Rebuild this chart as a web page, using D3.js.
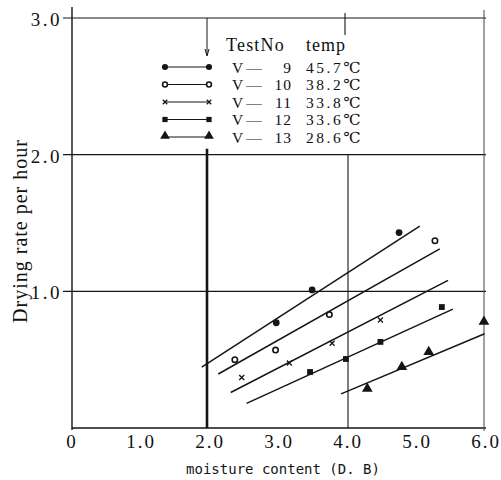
<!DOCTYPE html>
<html>
<head>
<meta charset="utf-8">
<script src="https://cdn.jsdelivr.net/npm/d3@7"></script>
<style>
  html, body { margin: 0; padding: 0; background: #fff; }
  svg { display: block; }
  .serif { font-family: "Liberation Serif", "DejaVu Serif", serif; fill: #111; }
</style>
</head>
<body>
<svg id="chart" width="501" height="480"></svg>
<script>
// Drying rate against moisture content, five test runs
const testNums = ["9", "10", "11", "12", "13"];
const temps = ["45.7℃", "38.2℃", "33.8℃", "33.6℃", "28.6℃"];
const markerTypes = ["dot", "ring", "cross", "square", "triangle"];

// measured points (moisture content, drying rate)
const v9X = [2.96, 3.48, 4.74];
const v9Y = [0.77, 1.01, 1.43];
const v10X = [2.36, 2.95, 3.73, 5.26];
const v10Y = [0.50, 0.57, 0.83, 1.37];
const v11X = [2.46, 3.15, 3.77, 4.47];
const v11Y = [0.37, 0.475, 0.62, 0.79];
const v12X = [3.45, 3.97, 4.47, 5.36];
const v12Y = [0.41, 0.505, 0.63, 0.885];
const v13X = [4.28, 4.78, 5.17, 5.97];
const v13Y = [0.28, 0.44, 0.55, 0.77];

// fitted straight lines: [x start, x end], [y start, y end]
const fitX = [[1.88, 5.04], [2.12, 5.33], [2.30, 5.45], [2.53, 5.52], [3.90, 5.98]];
const fitY = [[0.446, 1.478], [0.395, 1.31], [0.26, 1.08], [0.18, 0.87], [0.25, 0.69]];

const xTicks = [0, 1, 2, 3, 4, 5, 6];
const xTickLabels = ["0", "1.0", "2.0", "3.0", "4.0", "5.0", "6.0"];
const yTicks = [1, 2, 3];
const yTickLabels = ["1.0", "2.0", "3.0"];

const seriesX = [v9X, v10X, v11X, v12X, v13X];
const seriesY = [v9Y, v10Y, v11Y, v12Y, v13Y];

const svg = d3.select("#chart");
const x = d3.scaleLinear().domain([0, 6]).range([72, 486]);
const y = d3.scaleLinear().domain([0, 3]).range([428, 18]);
const ink = "#151515";

const frame = svg.append("g").attr("fill", "none").attr("stroke", ink);

// left axis and bottom axis
frame.append("line").attr("x1", x(0)).attr("x2", x(0)).attr("y1", y(3) - 11).attr("y2", y(0) + 2).attr("stroke-width", 1.4);
frame.append("line").attr("x1", x(0)).attr("x2", x(6)).attr("y1", y(0)).attr("y2", y(0)).attr("stroke-width", 1.3);

// horizontal rules (top one is the frame top)
yTicks.forEach(v => {
  frame.append("line").attr("x1", x(0) - 9).attr("x2", x(6)).attr("y1", y(v)).attr("y2", y(v))
    .attr("stroke-width", 1.2);
});

// vertical rules, broken around the legend
frame.append("line").attr("x1", x(2) - 3).attr("x2", x(2) - 3).attr("y1", y(3)).attr("y2", 55).attr("stroke-width", 1);
frame.append("path").attr("d", d3.line()([[x(2) - 5, 49], [x(2) - 3, 56], [x(2) - 1, 49]])).attr("stroke-width", 1);
frame.append("line").attr("x1", x(2) - 3).attr("x2", x(2) - 3).attr("y1", y(2) - 6).attr("y2", y(0)).attr("stroke-width", 2.6);
frame.append("line").attr("x1", x(4) - 3).attr("x2", x(4) - 3).attr("y1", y(3) - 5).attr("y2", 35).attr("stroke-width", 1.1);
frame.append("line").attr("x1", x(4)).attr("x2", x(4)).attr("y1", y(2)).attr("y2", y(0)).attr("stroke-width", 1.1);
frame.append("line").attr("x1", x(6) - 2).attr("x2", x(6) - 2).attr("y1", y(3) - 8).attr("y2", y(0) + 3)
  .attr("stroke-width", 1).attr("stroke", "#444");

// tick labels
svg.append("g").selectAll("text").data(xTicks).join("text")
  .attr("class", "serif")
  .attr("x", d => x(d)).attr("y", 448)
  .attr("text-anchor", "middle").attr("font-size", 19).attr("letter-spacing", 2)
  .text((d, i) => xTickLabels[i]);

svg.append("g").selectAll("text").data(yTicks).join("text")
  .attr("class", "serif")
  .attr("x", 62).attr("y", d => y(d) + 8)
  .attr("text-anchor", "end").attr("font-size", 19).attr("letter-spacing", 2.5)
  .text((d, i) => yTickLabels[i]);

// axis titles
svg.append("text").attr("class", "serif")
  .attr("transform", "translate(27,231) rotate(-90)")
  .attr("text-anchor", "middle").attr("font-size", 20).attr("letter-spacing", 1)
  .text("Drying rate per hour");

svg.append("text")
  .attr("x", 283).attr("y", 474)
  .attr("text-anchor", "middle")
  .attr("font-family", "DejaVu Sans Mono, monospace").attr("font-size", 14).attr("fill", ink)
  .text("moisture content (D. B)");

// marker drawing
function drawMarker(g, type, cx, cy, scale) {
  const s = scale || 1;
  if (type === "dot") {
    g.append("circle").attr("cx", cx).attr("cy", cy).attr("r", 3.4 * s).attr("fill", ink);
  } else if (type === "ring") {
    g.append("circle").attr("cx", cx).attr("cy", cy).attr("r", 2.7 * s)
      .attr("fill", "#fff").attr("stroke", ink).attr("stroke-width", 1.6);
  } else if (type === "cross") {
    g.append("path").attr("transform", `translate(${cx},${cy})`)
      .attr("d", d3.symbol(d3.symbolX, 18 * s * s)()).attr("fill", "none")
      .attr("stroke", ink).attr("stroke-width", 1.3);
  } else if (type === "square") {
    g.append("path").attr("transform", `translate(${cx},${cy})`)
      .attr("d", d3.symbol(d3.symbolSquare, 34 * s * s)()).attr("fill", ink);
  } else {
    g.append("path").attr("transform", `translate(${cx},${cy - 1})`)
      .attr("d", d3.symbol(d3.symbolTriangle, 50 * s * s)()).attr("fill", ink);
  }
}

// fitted lines and measured points
const plot = svg.append("g");
const line = d3.line().x(d => x(d[0])).y(d => y(d[1]));
fitX.forEach((xs, i) => {
  plot.append("path")
    .attr("d", line([[xs[0], fitY[i][0]], [xs[1], fitY[i][1]]]))
    .attr("fill", "none").attr("stroke", ink).attr("stroke-width", 1.5);
});
seriesX.forEach((xs, i) => {
  xs.forEach((xv, j) => drawMarker(plot, markerTypes[i], x(xv), y(seriesY[i][j]), 1));
});

// legend
const legend = svg.append("g");
const rowY = [67, 84.5, 102, 119.5, 137];
legend.append("text").attr("class", "serif")
  .attr("x", 226).attr("y", 51).attr("font-size", 18).attr("letter-spacing", 1.2)
  .text("TestNo");
legend.append("text").attr("class", "serif")
  .attr("x", 306).attr("y", 51).attr("font-size", 18).attr("letter-spacing", 1)
  .text("temp");
testNums.forEach((num, i) => {
  const ry = rowY[i];
  legend.append("line").attr("x1", 165).attr("x2", 209).attr("y1", ry).attr("y2", ry)
    .attr("stroke", ink).attr("stroke-width", 1.2);
  drawMarker(legend, markerTypes[i], 165, ry, 0.9);
  drawMarker(legend, markerTypes[i], 209, ry, 0.9);
  legend.append("text").attr("class", "serif")
    .attr("x", 232).attr("y", ry + 5.5).attr("font-size", 15.5).attr("letter-spacing", 3)
    .text("V—");
  legend.append("text").attr("class", "serif")
    .attr("x", 292).attr("y", ry + 5.5).attr("font-size", 15.5).attr("letter-spacing", 1)
    .attr("text-anchor", "end")
    .text(num);
  legend.append("text").attr("class", "serif")
    .attr("x", 306).attr("y", ry + 5.5).attr("font-size", 15.5).attr("letter-spacing", 2.5)
    .text(temps[i]);
});
</script>
</body>
</html>
